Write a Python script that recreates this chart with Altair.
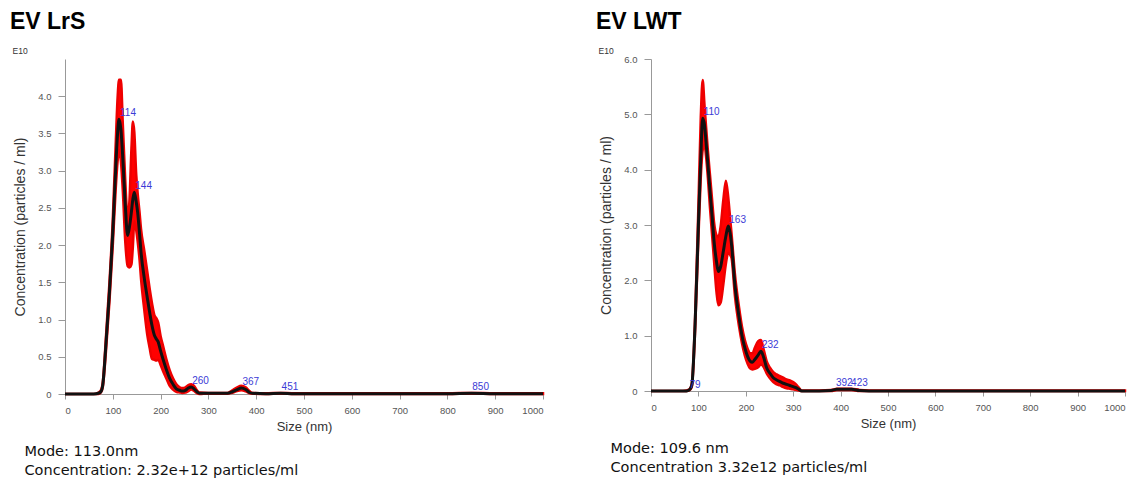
import altair as alt
import pandas as pd

# ---------------- Data: EV LrS ----------------
lrs_size = [0, 60, 70, 75, 79, 86, 93, 100, 106, 110, 113, 117, 121, 126, 131, 135, 139, 142, 145,
            149, 152, 156, 159, 166, 172, 177, 182, 187, 191, 195, 200, 205, 212, 219, 226, 233,
            240, 245, 252, 258, 264, 270, 276, 281, 300, 340, 350, 360, 369, 378, 386, 392, 420,
            451, 480, 550, 800, 850, 900, 1000]
lrs_mean = [0, 0, 0.01, 0.03, 0.12, 0.70, 1.37, 2.17, 3.02, 3.50, 3.69, 3.55, 3.16, 2.55, 2.13,
            2.25, 2.45, 2.62, 2.71, 2.58, 2.44, 2.15, 1.91, 1.55, 1.30, 1.10, 0.92, 0.79, 0.74,
            0.70, 0.58, 0.47, 0.33, 0.21, 0.13, 0.07, 0.05, 0.04, 0.05, 0.08, 0.095, 0.07, 0.03,
            0.01, 0.01, 0.01, 0.03, 0.06, 0.08, 0.06, 0.02, 0.01, 0.005, 0.01, 0.005, 0.005,
            0.005, 0.01, 0.005, 0.005]
lrs_upper = [0, 0, 0.02, 0.05, 0.16, 0.80, 1.50, 2.35, 3.35, 3.98, 4.22, 4.22, 3.62, 2.88, 2.38,
             2.62, 3.30, 3.66, 3.52, 2.95, 2.70, 2.44, 2.22, 1.92, 1.65, 1.42, 1.22, 1.06, 1.02,
             0.96, 0.78, 0.65, 0.47, 0.32, 0.21, 0.13, 0.09, 0.08, 0.09, 0.12, 0.13, 0.11, 0.05,
             0.02, 0.015, 0.015, 0.05, 0.09, 0.11, 0.09, 0.04, 0.015, 0.01, 0.015, 0.01, 0.01,
             0.01, 0.015, 0.01, 0.01]
lrs_lower = [0, 0, 0.0, 0.02, 0.09, 0.60, 1.24, 2.00, 2.74, 3.12, 3.28, 3.12, 2.72, 2.05, 1.72,
             1.70, 1.74, 1.98, 2.32, 2.20, 2.05, 1.80, 1.55, 1.12, 0.80, 0.62, 0.47, 0.46, 0.45,
             0.46, 0.39, 0.31, 0.21, 0.11, 0.06, 0.03, 0.02, 0.015, 0.02, 0.04, 0.06, 0.04, 0.01,
             0.0, 0.005, 0.005, 0.015, 0.04, 0.05, 0.035, 0.01, 0.005, 0.0, 0.005, 0.0, 0.0,
             0.0, 0.005, 0.0, 0.0]
lrs_peak_size = [113, 145, 264, 369, 451, 850]
lrs_peak_val = [3.69, 2.71, 0.095, 0.08, 0.01, 0.01]
lrs_peak_label = ["114", "144", "260", "367", "451", "850"]

# ---------------- Data: EV LWT ----------------
lwt_size = [0, 60, 75, 81, 86, 93, 100, 105, 109, 113, 116, 120, 124.5, 129, 133, 138, 142, 147,
            152.5, 158, 163, 167, 170, 177, 186, 192, 198, 204, 209, 214, 219, 226, 232, 238,
            244, 251, 258, 265, 272, 279, 286, 293, 300, 306, 312, 318, 330, 380, 392, 408, 423,
            440, 480, 1000]
lwt_mean = [0, 0, 0.0, 0.02, 0.10, 1.20, 3.00, 4.21, 4.93, 4.80, 4.51, 4.10, 3.61, 3.15, 2.71,
            2.35, 2.16, 2.25, 2.52, 2.80, 2.98, 2.85, 2.64, 1.92, 1.32, 1.00, 0.78, 0.62, 0.54,
            0.52, 0.57, 0.65, 0.72, 0.60, 0.42, 0.32, 0.24, 0.20, 0.17, 0.14, 0.12, 0.10, 0.08,
            0.06, 0.03, 0.0, 0.0, 0.01, 0.03, 0.03, 0.03, 0.01, 0.0, 0.0]
lwt_upper = [0, 0, 0.01, 0.03, 0.13, 1.32, 3.35, 4.95, 5.62, 5.15, 4.80, 4.35, 3.90, 3.45, 3.05,
             2.82, 2.78, 2.98, 3.45, 3.80, 3.50, 3.12, 2.84, 2.12, 1.50, 1.16, 0.92, 0.76, 0.68,
             0.68, 0.78, 0.90, 0.92, 0.74, 0.54, 0.42, 0.34, 0.30, 0.27, 0.24, 0.21, 0.19, 0.16,
             0.12, 0.06, 0.01, 0.01, 0.02, 0.04, 0.04, 0.04, 0.02, 0.01, 0.01]
lwt_lower = [0, 0, 0.0, 0.01, 0.07, 1.08, 2.75, 3.85, 4.35, 4.45, 4.25, 3.85, 3.30, 2.80, 2.35,
             1.80, 1.55, 1.60, 1.92, 2.30, 2.50, 2.46, 2.40, 1.72, 1.15, 0.86, 0.64, 0.49, 0.41,
             0.39, 0.40, 0.43, 0.48, 0.43, 0.32, 0.23, 0.16, 0.12, 0.10, 0.07, 0.05, 0.04, 0.03,
             0.02, 0.01, 0.0, 0.0, 0.0, 0.02, 0.02, 0.02, 0.0, 0.0, 0.0]
lwt_peak_size = [79, 109, 163, 232, 388, 420]
lwt_peak_val = [0.0, 4.93, 2.98, 0.72, 0.03, 0.03]
lwt_peak_label = ["79", "110", "163", "232", "392", "423"]

x_ticks = [0, 100, 200, 300, 400, 500, 600, 700, 800, 900, 1000]
lrs_y_ticks = [0, 0.5, 1.0, 1.5, 2.0, 2.5, 3.0, 3.5, 4.0]
lwt_y_ticks = [0, 1.0, 2.0, 3.0, 4.0, 5.0, 6.0]

FONT = "Liberation Sans"
NOTE_FONT = "DejaVu Sans"


def one(text, x, y, size, weight="normal", color="black", font=FONT):
    return alt.Chart(alt.Data(values=[{}])).mark_text(
        text=text, align="left", baseline="alphabetic", font=font, fontSize=size,
        fontWeight=weight, color=color
    ).encode(x=alt.value(x), y=alt.value(y))


def panel(size, mean, upper, lower, psize, pval, plabel, title, mode_txt, conc_txt,
          ymax, yticks, w, h):
    df = pd.DataFrame({"size": size, "mean": mean, "upper": upper, "lower": lower})
    pk = pd.DataFrame({"size": psize, "val": pval, "label": plabel})
    xs = alt.Scale(domain=[0, 1000], nice=False)
    ys = alt.Scale(domain=[0, ymax], nice=False)
    xax = alt.Axis(values=x_ticks, format="d", title="Size (nm)", grid=False, labelFont=FONT,
                   labelFontSize=9.5, labelColor="#555", tickColor="#999", domainColor="#999",
                   tickSize=5, labelPadding=6, titleFont=FONT, titleFontSize=13,
                   titleFontWeight="normal", titleColor="#333", titlePadding=6)
    yax = alt.Axis(values=yticks, title="Concentration (particles / ml)", grid=False,
                   labelExpr="datum.value == 0 ? '0' : format(datum.value, '.1f')",
                   labelFont=FONT, labelFontSize=9.5, labelColor="#555", tickColor="#999",
                   domainColor="#999", tickSize=7, labelPadding=7, titleFont=FONT,
                   titleFontSize=14, titleFontWeight="normal", titleColor="#333",
                   titleX=-38, titleY=h / 2)
    band = alt.Chart(df).mark_area(
        color="#ff0000", opacity=1, stroke="#ee0000", strokeWidth=2.5, interpolate="monotone"
    ).encode(
        x=alt.X("size:Q", scale=xs, axis=xax),
        y=alt.Y("upper:Q", scale=ys, axis=yax),
        y2="lower:Q",
    )
    line = alt.Chart(df).mark_line(color="#111", strokeWidth=3, interpolate="monotone").encode(
        x="size:Q", y="mean:Q"
    )
    labels = alt.Chart(pk).mark_text(
        align="left", baseline="bottom", dx=1, dy=-1, font=FONT, fontSize=10, color="#3b3bd6"
    ).encode(x="size:Q", y="val:Q", text="label:N")
    texts = [
        one(title, -55, -30, 23, weight="bold"),
        one("E10", -52.5, -5, 8.5, color="#333"),
        one(mode_txt, -40.5, h + 62, 14.5, color="#111", font=NOTE_FONT),
        one(conc_txt, -40.5, h + 81, 14.5, color="#111", font=NOTE_FONT),
    ]
    return alt.layer(band, line, labels, *texts).properties(width=w, height=h)


left = panel(lrs_size, lrs_mean, lrs_upper, lrs_lower, lrs_peak_size, lrs_peak_val,
             lrs_peak_label, "EV LrS", "Mode: 113.0nm",
             "Concentration: 2.32e+12 particles/ml", 4.5, lrs_y_ticks, 478, 335)
right = panel(lwt_size, lwt_mean, lwt_upper, lwt_lower, lwt_peak_size, lwt_peak_val,
              lwt_peak_label, "EV LWT", "Mode: 109.6 nm",
              "Concentration 3.32e12 particles/ml", 6.0, lwt_y_ticks, 474, 332)

chart = alt.hconcat(left, right, spacing=47).properties(
    padding={"left": 10, "top": 11, "right": 0, "bottom": 0},
    background="white",
).configure_view(strokeWidth=0, stroke="transparent")

chart.save("out.html", embed_options={"renderer": "svg", "actions": False})
